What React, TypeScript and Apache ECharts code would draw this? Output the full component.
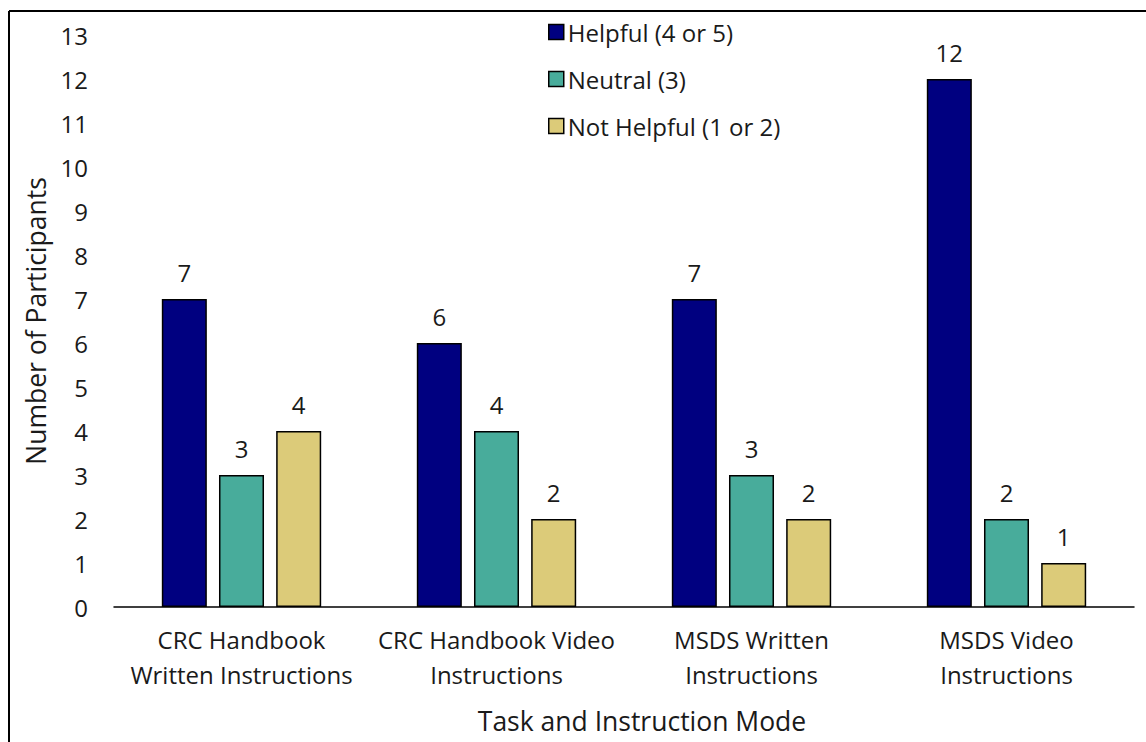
import React, { useEffect, useRef } from "react";
import * as echarts from "echarts";

const categories = [
  "CRC Handbook\nWritten Instructions",
  "CRC Handbook Video\nInstructions",
  "MSDS Written\nInstructions",
  "MSDS Video\nInstructions",
];
const helpful = [7, 6, 7, 12];
const neutral = [3, 4, 3, 2];
const notHelpful = [4, 2, 2, 1];
const seriesNames = ["Helpful (4 or 5)", "Neutral (3)", "Not Helpful (1 or 2)"];
const colors = ["#000080", "#48ac9b", "#dccb79"];

const FONT = "Open Sans";

export default function App() {
  const ref = useRef<HTMLDivElement>(null);
  useEffect(() => {
    if (!ref.current) return;
    const chart = echarts.init(ref.current, undefined, { renderer: "svg" });
    const mk = (name: string, data: number[], color: string) => ({
      name,
      type: "bar",
      data,
      barGap: "27%",
      barCategoryGap: "37.5%",
      itemStyle: { color, borderColor: "#000", borderWidth: 1.5 },
      label: {
        show: true,
        position: "top",
        distance: 15,
        color: "#1a1a1a",
        fontFamily: FONT,
        fontSize: 24,
      },
    });
    chart.setOption({
      animation: false,
      backgroundColor: "#fff",
      textStyle: { fontFamily: FONT },
      grid: { left: 114, right: 12, top: 35, bottom: 135, containLabel: false },
      legend: {
        orient: "vertical",
        left: 543,
        top: 15,
        itemWidth: 15,
        itemHeight: 15,
        itemGap: 23,
        icon: "rect",
        textStyle: { fontFamily: FONT, fontSize: 24, color: "#1a1a1a", padding: [0, 0, 0, -1] },
        itemStyle: { borderColor: "#000", borderWidth: 1.5 },
        data: seriesNames,
      },
      xAxis: {
        type: "category",
        data: categories,
        axisLine: { show: true, lineStyle: { color: "#000", width: 1.5 } },
        axisTick: { show: false },
        axisLabel: {
          fontFamily: FONT,
          fontSize: 24,
          color: "#1a1a1a",
          lineHeight: 35,
          margin: 15,
          interval: 0,
        },
        name: "Task and Instruction Mode",
        nameLocation: "middle",
        nameGap: 100,
        nameTextStyle: { fontFamily: FONT, fontSize: 26.5, color: "#1a1a1a", padding: [0, 0, 0, 36] },
      },
      yAxis: {
        type: "value",
        min: 0,
        max: 13,
        interval: 1,
        axisLine: { show: false },
        axisTick: { show: false },
        splitLine: { show: false },
        axisLabel: { fontFamily: FONT, fontSize: 24, color: "#1a1a1a", margin: 26 },
        name: "Number of Participants",
        nameLocation: "middle",
        nameGap: 63,
        nameTextStyle: { fontFamily: FONT, fontSize: 26.5, color: "#1a1a1a" },
      },
      graphic: [
        { type: "line", shape: { x1: 9, y1: 11, x2: 9, y2: 742 }, style: { stroke: "#000", lineWidth: 2 } },
        { type: "line", shape: { x1: 9, y1: 11, x2: 1146, y2: 11 }, style: { stroke: "#000", lineWidth: 2 } },
      ],
      series: [
        mk(seriesNames[0], helpful, colors[0]),
        mk(seriesNames[1], neutral, colors[1]),
        mk(seriesNames[2], notHelpful, colors[2]),
      ],
    });
    return () => chart.dispose();
  }, []);
  return (
    <div
      ref={ref}
      style={{ position: "absolute", left: 0, top: 0, width: 1146, height: 742 }}
    />
  );
}
